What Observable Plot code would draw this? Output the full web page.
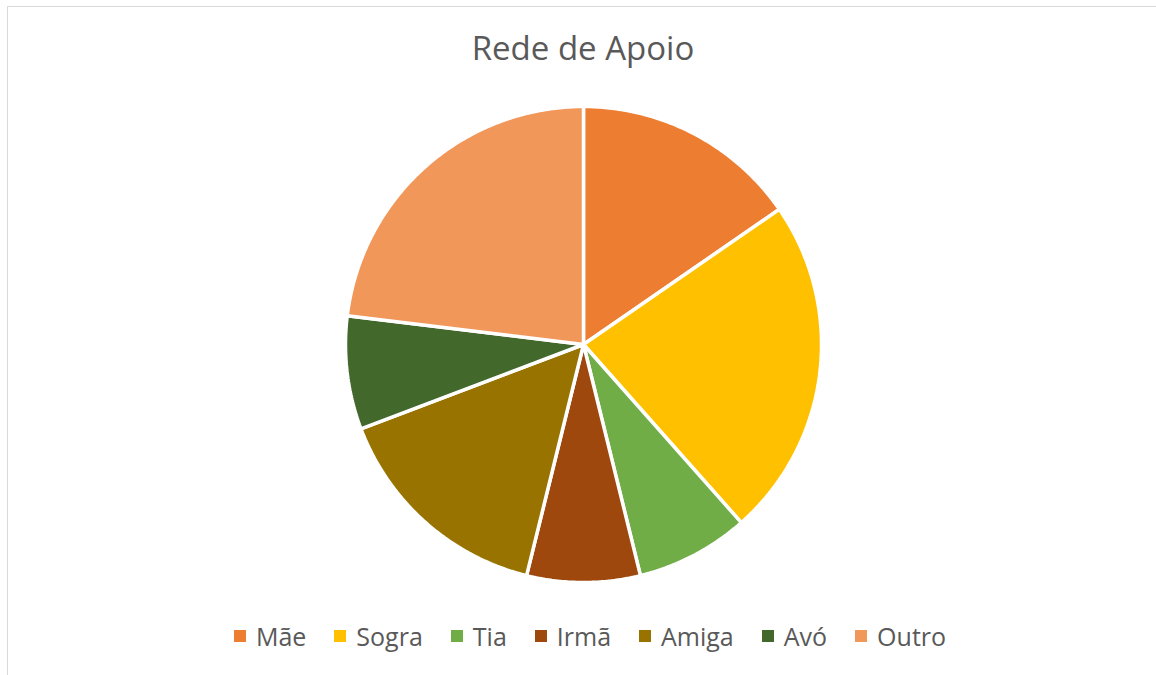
<!DOCTYPE html>
<html>
<head>
<meta charset="utf-8">
<script src="https://cdn.jsdelivr.net/npm/d3@7"></script>
<script src="https://cdn.jsdelivr.net/npm/@observablehq/plot@0.6"></script>
<style>
  html, body { margin: 0; padding: 0; background: #fff; }
  #wrap { position: relative; width: 1156px; height: 675px; overflow: hidden; font-family: "Open Sans", sans-serif; color: #595959; }
  #frame { position: absolute; left: 7px; top: 6px; width: 1200px; height: 700px; border-left: 1.5px solid #d9d9d9; border-top: 1.5px solid #d9d9d9; }
  #title { position: absolute; left: 0; width: 1166px; top: 26px; text-align: center; font-size: 33px; line-height: 44px; }
  #chart { position: absolute; left: 0; top: 0; }
  #legend { position: absolute; left: 0; width: 1180px; top: 618px; display: flex; justify-content: center; gap: 28px; font-size: 25px; line-height: 36px; }
  .item { display: flex; align-items: center; }
  .sw { width: 12px; height: 12px; margin-right: 10px; }
</style>
</head>
<body>
<div id="wrap">
  <div id="frame"></div>
  <div id="chart"></div>
  <div id="title">Rede de Apoio</div>
  <div id="legend"></div>
</div>
<script>
const categories = ["Mãe", "Sogra", "Tia", "Irmã", "Amiga", "Avó", "Outro"];
const values = [2, 3, 1, 1, 2, 1, 3];
const colors = ["#ED7D31", "#FFC000", "#70AD47", "#9E480E", "#997300", "#43682B", "#F1975A"];

const data = categories.map((name, i) => ({name, value: values[i]}));
const arcs = d3.pie().sort(null).value(d => d.value).startAngle(0).endAngle(2 * Math.PI)(data);

// build slice outlines from the pie angles
const pts = [];
for (const a of arcs) {
  const name = a.data.name;
  pts.push({name, x: 0, y: 0});
  const n = Math.max(8, Math.ceil((a.endAngle - a.startAngle) / 0.01));
  for (let k = 0; k <= n; k++) {
    const t = a.startAngle + (a.endAngle - a.startAngle) * k / n;
    pts.push({name, x: Math.sin(t), y: Math.cos(t)});
  }
  pts.push({name, x: 0, y: 0});
}

const cx = 583, cy = 344, r = 238;
const W = 1156, H = 675;
const chart = Plot.plot({
  width: W,
  height: H,
  marginLeft: cx - r,
  marginRight: W - (cx + r),
  marginTop: cy - r,
  marginBottom: H - (cy + r),
  x: {domain: [-1, 1], axis: null},
  y: {domain: [-1, 1], axis: null},
  color: {domain: categories, range: colors},
  style: {background: "transparent"},
  marks: [
    Plot.line(pts, {x: "x", y: "y", z: "name", fill: "name", stroke: "white", strokeWidth: 3.5, strokeLinejoin: "miter", curve: "linear"})
  ]
});
document.getElementById("chart").appendChild(chart);

const legend = document.getElementById("legend");
categories.forEach((c, i) => {
  const it = document.createElement("div");
  it.className = "item";
  const sw = document.createElement("div");
  sw.className = "sw";
  sw.style.background = colors[i];
  const lb = document.createElement("span");
  lb.textContent = c;
  it.appendChild(sw);
  it.appendChild(lb);
  legend.appendChild(it);
});
</script>
</body>
</html>
